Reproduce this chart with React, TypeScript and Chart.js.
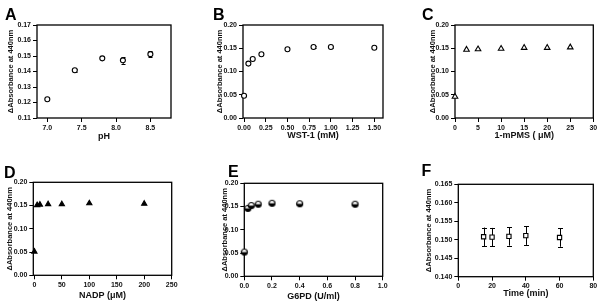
import React, { useEffect, useRef } from 'react';
import { Chart, registerables } from 'chart.js';

Chart.register(...registerables);

const FONT = '"Liberation Sans", Arial, Helvetica, sans-serif';
const Y_TITLE = 'ΔAbsorbance at 440nm';

// ---- Panel A: pH ----
const phValues = [7.0, 7.4, 7.8, 8.1, 8.5];
const absA = [0.1221, 0.1408, 0.1485, 0.1472, 0.1512];
const errA = [0.0008, 0.0008, 0.0003, 0.0021, 0.0018];
const xTicksA = [7.0, 7.5, 8.0, 8.5];
const yTicksA = [0.11, 0.12, 0.13, 0.14, 0.15, 0.16, 0.17];

// ---- Panel B: WST-1 ----
const wstValues = [0, 0.05, 0.1, 0.2, 0.5, 0.8, 1.0, 1.5];
const absB = [0.048, 0.117, 0.127, 0.137, 0.148, 0.1527, 0.1527, 0.1512];
const errB = [0, 0, 0, 0, 0, 0.002, 0.002, 0];
const xTicksB = [0, 0.25, 0.5, 0.75, 1.0, 1.25, 1.5];

// ---- Panel C: 1-mPMS ----
const pmsValues = [0, 2.5, 5, 10, 15, 20, 25];
const absC = [0.046, 0.147, 0.148, 0.149, 0.151, 0.151, 0.152];
const xTicksC = [0, 5, 10, 15, 20, 25, 30];

// ---- Panel D: NADP ----
const nadpValues = [0, 5, 10, 25, 50, 100, 200];
const absD = [0.051, 0.151, 0.152, 0.153, 0.153, 0.155, 0.154];
const xTicksD = [0, 50, 100, 150, 200, 250];

// ---- Panel E: G6PD ----
const g6pdValues = [0, 0.025, 0.05, 0.1, 0.2, 0.4, 0.8];
const absE = [0.052, 0.146, 0.152, 0.155, 0.157, 0.156, 0.155];
const xTicksE = [0, 0.2, 0.4, 0.6, 0.8, 1.0];

// ---- Panel F: Time ----
const timeValues = [15, 20, 30, 40, 60];
const absF = [0.1508, 0.1507, 0.1509, 0.1511, 0.1506];
const errF = [0.0025, 0.0025, 0.0025, 0.0025, 0.0025];
const xTicksF = [0, 20, 40, 60, 80];
const yTicksF = [0.14, 0.145, 0.15, 0.155, 0.16, 0.165];

const yTicks020 = [0, 0.05, 0.1, 0.15, 0.2];

function halfFilledCircle(r: number): HTMLCanvasElement {
  const s = Math.ceil(2 * r + 3);
  const c = document.createElement('canvas');
  c.width = s;
  c.height = s;
  const ctx = c.getContext('2d')!;
  const cx = s / 2;
  const cy = s / 2;
  ctx.fillStyle = '#fff';
  ctx.beginPath();
  ctx.arc(cx, cy, r, 0, Math.PI * 2);
  ctx.fill();
  ctx.fillStyle = '#000';
  ctx.beginPath();
  ctx.arc(cx, cy, r, 0, Math.PI);
  ctx.closePath();
  ctx.fill();
  ctx.strokeStyle = '#000';
  ctx.lineWidth = 1.2;
  ctx.beginPath();
  ctx.arc(cx, cy, r, 0, Math.PI * 2);
  ctx.stroke();
  return c;
}

const frameErrPlugin = {
  id: 'frameErr',
  beforeDatasetsDraw(chart: any) {
    const { ctx, chartArea } = chart;
    ctx.save();
    ctx.strokeStyle = '#000';
    ctx.lineWidth = 1.3;
    ctx.strokeRect(chartArea.left, chartArea.top, chartArea.right - chartArea.left, chartArea.bottom - chartArea.top);
    const xs = chart.scales.x;
    const ys = chart.scales.y;
    chart.data.datasets.forEach((ds: any) => {
      const errs: number[] | undefined = ds.errorBars;
      if (!errs) return;
      const cap = ds.capWidth || 4;
      ctx.lineWidth = 1;
      ctx.strokeStyle = '#000';
      ds.data.forEach((pt: any, i: number) => {
        const e = errs[i];
        if (!e) return;
        const px = Math.round(xs.getPixelForValue(pt.x)) + 0.5;
        const y1 = ys.getPixelForValue(pt.y + e);
        const y2 = ys.getPixelForValue(pt.y - e);
        ctx.beginPath();
        ctx.moveTo(px, y1);
        ctx.lineTo(px, y2);
        ctx.moveTo(px - cap / 2, Math.round(y1) + 0.5);
        ctx.lineTo(px + cap / 2, Math.round(y1) + 0.5);
        ctx.moveTo(px - cap / 2, Math.round(y2) + 0.5);
        ctx.lineTo(px + cap / 2, Math.round(y2) + 0.5);
        ctx.stroke();
      });
    });
    ctx.restore();
  },
};

type PanelCfg = {
  letter: string;
  letterLeft: number;
  letterTop: number;
  left: number;
  top: number;
  width: number;
  height: number;
  padL: number;
  padT: number;
  padR: number;
  padB: number;
  yW: number;
  xH: number;
  xMin: number;
  xMax: number;
  yMin: number;
  yMax: number;
  xTicks: number[];
  yTicks: number[];
  xDec: number;
  yDec: number;
  xTitle: string;
  xs: number[];
  ys: number[];
  errs?: number[];
  cap?: number;
  pointStyle: any;
  radius: number;
  fill: string;
};

function Panel({ cfg }: { cfg: PanelCfg }) {
  const ref = useRef<HTMLCanvasElement | null>(null);
  useEffect(() => {
    if (!ref.current) return;
    const tickFont = { family: FONT, size: 7, weight: 'bold' as const };
    const chart = new Chart(ref.current, {
      type: 'scatter',
      data: {
        datasets: [
          {
            data: cfg.xs.map((x, i) => ({ x, y: cfg.ys[i] })),
            pointStyle: cfg.pointStyle,
            pointRadius: cfg.radius,
            pointHoverRadius: cfg.radius,
            pointBorderColor: '#000',
            pointBackgroundColor: cfg.fill,
            pointBorderWidth: 1.1,
            showLine: false,
            clip: false,
            errorBars: cfg.errs,
            capWidth: cfg.cap,
          } as any,
        ],
      },
      options: {
        animation: false,
        responsive: false,
        maintainAspectRatio: false,
        devicePixelRatio: 1,
        events: [],
        layout: { padding: { left: cfg.padL, top: cfg.padT, right: cfg.padR, bottom: cfg.padB } },
        plugins: { legend: { display: false }, tooltip: { enabled: false } },
        scales: {
          x: {
            type: 'linear',
            min: cfg.xMin,
            max: cfg.xMax,
            border: { display: false },
            grid: { drawOnChartArea: false, drawTicks: true, tickLength: 4, color: '#000', lineWidth: 1 },
            ticks: {
              font: tickFont,
              color: '#111',
              padding: 1.5,
              maxRotation: 0,
              autoSkip: false,
              callback: (v: any) => Number(v).toFixed(cfg.xDec),
            },
            afterBuildTicks: (scale: any) => {
              scale.ticks = cfg.xTicks.map((v) => ({ value: v }));
            },
            afterFit: (scale: any) => {
              scale.height = cfg.xH;
            },
            title: {
              display: true,
              text: cfg.xTitle,
              color: '#111',
              font: { family: FONT, size: 9, weight: 'bold' },
              padding: 0,
            },
          },
          y: {
            type: 'linear',
            min: cfg.yMin,
            max: cfg.yMax,
            border: { display: false },
            grid: { drawOnChartArea: false, drawTicks: true, tickLength: 4, color: '#000', lineWidth: 1 },
            ticks: {
              font: tickFont,
              color: '#111',
              padding: 2,
              autoSkip: false,
              callback: (v: any) => Number(v).toFixed(cfg.yDec),
            },
            afterBuildTicks: (scale: any) => {
              scale.ticks = cfg.yTicks.map((v) => ({ value: v }));
            },
            afterFit: (scale: any) => {
              scale.width = cfg.yW;
            },
            title: {
              display: true,
              text: Y_TITLE,
              color: '#111',
              font: { family: FONT, size: 7.5, weight: 'bold' },
              padding: 0,
            },
          },
        },
      } as any,
      plugins: [frameErrPlugin],
    });
    return () => chart.destroy();
  }, [cfg]);
  return (
    <>
      <canvas
        ref={ref}
        width={cfg.width}
        height={cfg.height}
        style={{ position: 'absolute', left: cfg.left, top: cfg.top, width: cfg.width, height: cfg.height }}
      />
      <div
        style={{
          position: 'absolute',
          left: cfg.letterLeft,
          top: cfg.letterTop,
          fontFamily: FONT,
          fontWeight: 'bold',
          fontSize: 16,
          lineHeight: '16px',
          color: '#000',
        }}
      >
        {cfg.letter}
      </div>
    </>
  );
}

const halfCircle = halfFilledCircle(3);

const panels: PanelCfg[] = [
  {
    letter: 'A', letterLeft: 5, letterTop: 7.2,
    left: 0, top: 0, width: 200, height: 150,
    padL: 6.5, yW: 30.5, padT: 25, padR: 29, xH: 24.4, padB: 7.6,
    xMin: 6.85, xMax: 8.8, yMin: 0.11, yMax: 0.17,
    xTicks: xTicksA, yTicks: yTicksA, xDec: 1, yDec: 2,
    xTitle: 'pH', xs: phValues, ys: absA, errs: errA, cap: 4,
    pointStyle: 'circle', radius: 2.5, fill: '#fff',
  },
  {
    letter: 'B', letterLeft: 213, letterTop: 7.2,
    left: 200, top: 0, width: 200, height: 150,
    padL: 15.5, yW: 27.5, padT: 25, padR: 17, xH: 23.4, padB: 8.6,
    xMin: -0.012, xMax: 1.6, yMin: 0, yMax: 0.2,
    xTicks: xTicksB, yTicks: yTicks020, xDec: 2, yDec: 2,
    xTitle: 'WST-1 (mM)', xs: wstValues, ys: absB, errs: errB, cap: 4,
    pointStyle: 'circle', radius: 2.5, fill: '#fff',
  },
  {
    letter: 'C', letterLeft: 422, letterTop: 7.2,
    left: 400, top: 0, width: 200, height: 150,
    padL: 28.8, yW: 26.2, padT: 25, padR: 6.7, xH: 23.4, padB: 8.6,
    xMin: 0, xMax: 30, yMin: 0, yMax: 0.2,
    xTicks: xTicksC, yTicks: yTicks020, xDec: 0, yDec: 2,
    xTitle: '1-mPMS ( μM)', xs: pmsValues, ys: absC,
    pointStyle: 'triangle', radius: 3.2, fill: '#fff',
  },
  {
    letter: 'D', letterLeft: 4, letterTop: 164.5,
    left: 0, top: 150, width: 200, height: 152,
    padL: 5.5, yW: 27.8, padT: 32.3, padR: 28.3, xH: 26.1, padB: 0.6,
    xMin: -2, xMax: 250, yMin: 0, yMax: 0.2,
    xTicks: xTicksD, yTicks: yTicks020, xDec: 0, yDec: 2,
    xTitle: 'NADP (μM)', xs: nadpValues, ys: absD,
    pointStyle: 'triangle', radius: 3, fill: '#000',
  },
  {
    letter: 'E', letterLeft: 228, letterTop: 164,
    left: 200, top: 150, width: 200, height: 152,
    padL: 20.5, yW: 23.8, padT: 33.3, padR: 17.3, xH: 25.4, padB: 0.3,
    xMin: 0, xMax: 1.0, yMin: 0, yMax: 0.2,
    xTicks: xTicksE, yTicks: yTicks020, xDec: 1, yDec: 2,
    xTitle: 'G6PD (U/ml)', xs: g6pdValues, ys: absE,
    pointStyle: halfCircle, radius: 3, fill: '#fff',
  },
  {
    letter: 'F', letterLeft: 421.5, letterTop: 163,
    left: 400, top: 150, width: 200, height: 152,
    padL: 24.8, yW: 33.5, padT: 34.3, padR: 6.7, xH: 22.7, padB: 2.6,
    xMin: 0, xMax: 80, yMin: 0.14, yMax: 0.165,
    xTicks: xTicksF, yTicks: yTicksF, xDec: 0, yDec: 3,
    xTitle: 'Time (min)', xs: timeValues, ys: absF, errs: errF, cap: 5,
    pointStyle: 'rect', radius: 3, fill: '#fff',
  },
];

export default function App() {
  return (
    <div
      style={{
        position: 'absolute',
        left: 0,
        top: 0,
        width: 600,
        height: 302,
        background: '#fff',
        overflow: 'hidden',
      }}
    >
      {panels.map((p) => (
        <Panel key={p.letter} cfg={p} />
      ))}
    </div>
  );
}
